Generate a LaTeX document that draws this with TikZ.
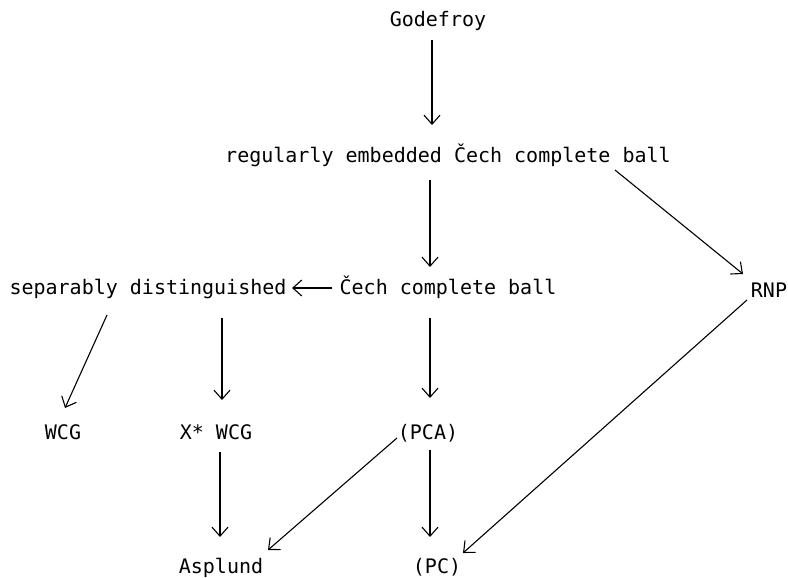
\documentclass[tikz,border=0pt]{standalone}
\usepackage{fontspec}
\newfontfamily\twfont{DejaVu Sans Mono}
\usetikzlibrary{arrows.meta,calc}
\tikzset{
  lbl/.style={anchor=base,inner sep=0pt,font=\twfont\fontsize{20}{24}\selectfont},
  arr/.style={-{Straight Barb[length=9pt,width=16pt]},line width=1.1pt}
}
\begin{document}
\begin{tikzpicture}[x=1pt,y=-1pt]
\useasboundingbox (0,0) rectangle (788,578);
\node[lbl] (god)  at (438,27)  {Godefroy};
\node[lbl] (reg)  at (448,162) {regularly embedded Čech complete ball};
\node[lbl] (cech) at (448,294) {Čech complete ball};
\node[lbl] (sep)  at (148,294) {separably distinguished};
\node[lbl] (rnp)  at (769,297) {RNP};
\node[lbl] (wcg)  at (63,439)  {WCG};
\node[lbl] (xwcg) at (216,439) {X* WCG};
\node[lbl] (pca)  at (428,439) {(PCA)};
\node[lbl] (asp)  at (221,573) {Asplund};
\node[lbl] (pc)   at (437,573) {(PC)};
\draw[arr] ($(god.base)+(-6,13)$) -- ($(reg.base)+(-16,-37)$);
\draw[arr] ($(reg.base)+(-18,18)$) -- ($(cech.base)+(-18,-27)$);
\draw[arr] ($(reg.base)+(167,8)$) -- ($(rnp.base)+(-26,-23)$);
\draw[arr] ($(cech.base)+(-116,-6)$) -- ($(sep.base)+(144,-6)$);
\draw[arr] ($(cech.base)+(-18,24)$) -- ($(pca.base)+(2,-41)$);
\draw[arr] ($(sep.base)+(-41,21)$) -- ($(wcg.base)+(2,-31)$);
\draw[arr] ($(sep.base)+(74,24)$) -- ($(xwcg.base)+(6,-39)$);
\draw[arr] ($(rnp.base)+(-22,3)$) -- ($(pc.base)+(26,-20)$);
\draw[arr] ($(xwcg.base)+(4,13)$) -- ($(asp.base)+(-1,-36)$);
\draw[arr] ($(pca.base)+(-31,-1)$) -- ($(asp.base)+(47,-23)$);
\draw[arr] ($(pca.base)+(2,11)$) -- ($(pc.base)+(-7,-36)$);
\end{tikzpicture}
\end{document}
